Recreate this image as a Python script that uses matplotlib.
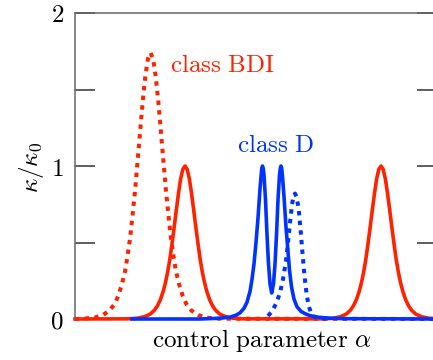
import matplotlib
matplotlib.use("Agg")
import matplotlib.pyplot as plt

plt.rcParams["mathtext.fontset"] = "cm"

RED = "#ff2200"
BLUE = "#0033ff"

# class BDI, dotted curve (single tall peak)
bdi_dot_alpha = [0.0, 0.075, 0.195, 0.279, 0.347, 0.398, 0.432, 0.466, 0.50, 0.525,
                 0.551, 0.576, 0.602, 0.627, 0.653, 0.678, 0.704, 0.729, 0.755,
                 0.781, 0.806, 0.832, 0.857, 0.883, 0.908, 0.934, 0.959, 0.985,
                 1.01, 1.044, 1.078, 1.112, 1.163, 1.231, 1.315, 1.435, 3.62]
bdi_dot_kappa = [0.0, 0.002, 0.009, 0.026, 0.056, 0.10, 0.15, 0.22, 0.31, 0.41,
                 0.53, 0.68, 0.85, 1.04, 1.24, 1.43, 1.59, 1.70, 1.74,
                 1.70, 1.59, 1.43, 1.24, 1.04, 0.85, 0.68, 0.53, 0.41,
                 0.31, 0.22, 0.15, 0.10, 0.056, 0.026, 0.009, 0.002, 0.0]

# class BDI, solid curve (two unit peaks)
bdi_alpha = [0.0, 0.52, 0.621, 0.694, 0.752, 0.795, 0.824, 0.853, 0.882, 0.904,
             0.926, 0.948, 0.969, 0.991, 1.013, 1.035, 1.056, 1.078, 1.10,
             1.122, 1.144, 1.165, 1.187, 1.209, 1.231, 1.252, 1.274, 1.296,
             1.318, 1.347, 1.376, 1.405, 1.448, 1.506, 1.579, 1.68,
             2.48, 2.581, 2.654, 2.712, 2.755, 2.784, 2.813, 2.842, 2.864,
             2.886, 2.908, 2.929, 2.951, 2.973, 2.995, 3.016, 3.038, 3.06,
             3.082, 3.104, 3.125, 3.147, 3.169, 3.191, 3.212, 3.234, 3.256,
             3.278, 3.307, 3.336, 3.365, 3.408, 3.466, 3.539, 3.62]
bdi_kappa = [0.0, 0.001, 0.005, 0.015, 0.032, 0.058, 0.086, 0.125, 0.181, 0.236,
             0.305, 0.389, 0.487, 0.597, 0.712, 0.822, 0.915, 0.978, 1.0,
             0.978, 0.915, 0.822, 0.712, 0.597, 0.487, 0.389, 0.305, 0.236,
             0.181, 0.125, 0.086, 0.058, 0.032, 0.015, 0.005, 0.001,
             0.001, 0.005, 0.015, 0.032, 0.058, 0.086, 0.125, 0.181, 0.236,
             0.305, 0.389, 0.487, 0.597, 0.712, 0.822, 0.915, 0.978, 1.0,
             0.978, 0.915, 0.822, 0.712, 0.597, 0.487, 0.389, 0.305, 0.236,
             0.181, 0.125, 0.086, 0.058, 0.032, 0.015, 0.005, 0.002]

# class D, solid curve (split double peak)
d_alpha = [0.57, 1.25, 1.45, 1.55, 1.61, 1.65, 1.69, 1.72, 1.75, 1.77, 1.79,
           1.81, 1.83, 1.85, 1.86, 1.868, 1.875, 1.882, 1.89, 1.905, 1.92,
           1.935, 1.95, 1.967, 1.985, 2.00, 2.015, 2.03, 2.045, 2.053, 2.06,
           2.067, 2.075, 2.09, 2.11, 2.125, 2.145, 2.165, 2.19, 2.22, 2.26,
           2.30, 2.35, 2.43, 2.55, 2.70, 3.62]
d_kappa = [0.0, 0.0, 0.005, 0.012, 0.025, 0.04, 0.07, 0.11, 0.18, 0.26, 0.36,
           0.50, 0.66, 0.85, 0.93, 0.985, 1.0, 0.985, 0.94, 0.78, 0.55,
           0.36, 0.23, 0.17, 0.23, 0.36, 0.55, 0.78, 0.94, 0.985, 1.0,
           0.985, 0.93, 0.80, 0.60, 0.48, 0.32, 0.21, 0.13, 0.08, 0.05,
           0.035, 0.022, 0.012, 0.005, 0.002, 0.0]

# class D, dotted curve
d_dot_alpha = [1.93, 1.97, 2.01, 2.05, 2.08, 2.11, 2.13, 2.15, 2.17, 2.185, 2.20,
               2.215, 2.235, 2.255, 2.275, 2.295, 2.315, 2.335, 2.36, 2.39, 2.43,
               2.55]
d_dot_kappa = [0.02, 0.05, 0.10, 0.17, 0.26, 0.38, 0.50, 0.63, 0.75, 0.80, 0.82,
               0.80, 0.73, 0.59, 0.43, 0.28, 0.17, 0.09, 0.04, 0.015, 0.005,
               0.0]

y_ticks = [0, 0.5, 1, 1.5, 2]
y_tick_labels = ["$0$", "", "$1$", "", "$2$"]

fig = plt.figure(figsize=(4.33, 3.6), dpi=100)
ax = fig.add_axes([75 / 433, 41 / 360, 362 / 433, 306 / 360])
ax.set_xlim(0, 3.62)
ax.set_ylim(0, 2)

lw = 2.6
dot_lw = 2.9
dots = (0, (1.1, 1.3))
ax.plot(bdi_dot_alpha, bdi_dot_kappa, color=RED, lw=dot_lw, ls=dots, clip_on=False)
ax.plot(bdi_alpha, bdi_kappa, color=RED, lw=lw, clip_on=False,
        solid_joinstyle="round")
ax.plot(d_alpha, d_kappa, color=BLUE, lw=lw, clip_on=False,
        solid_joinstyle="round")
ax.plot(d_dot_alpha, d_dot_kappa, color=BLUE, lw=dot_lw, ls=dots, clip_on=False)

ax.text(0.95, 1.614, r"$\mathrm{class\ BDI}$", color=RED, fontsize=18,
        ha="left", va="baseline")
ax.text(1.62, 1.093, r"$\mathrm{class\ D}$", color=BLUE, fontsize=18,
        ha="left", va="baseline")

for side in ("right", "bottom"):
    ax.spines[side].set_visible(False)
for side in ("left", "top"):
    ax.spines[side].set_color("#666666")
    ax.spines[side].set_linewidth(1.1)

ax.set_xticks([])
ax.set_yticks(y_ticks)
ax.set_yticklabels(y_tick_labels)
ax.tick_params(axis="y", direction="in", length=14.4, width=1.1,
               color="#333333", left=True, right=True, labelsize=18, pad=8)

fig.text(32 / 433, 1 - 167 / 360, r"$\kappa/\kappa_0$", rotation=90,
         fontsize=18, ha="center", va="center")
fig.text(262 / 433, 1 - 347 / 360, r"$\mathrm{control\ parameter}\ \alpha$",
         fontsize=18, ha="center", va="baseline")

fig.savefig("out.png", dpi=100)
